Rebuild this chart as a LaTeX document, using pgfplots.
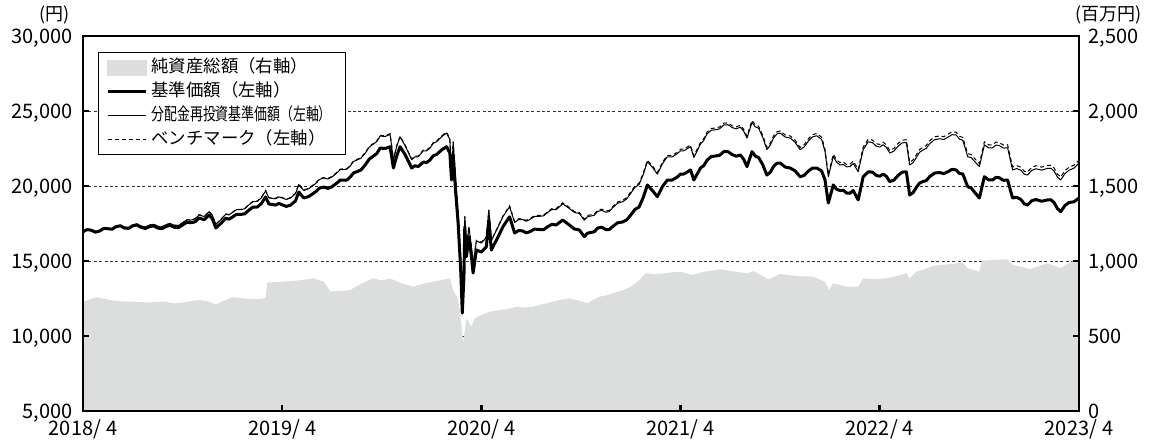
\documentclass[border=0pt]{standalone}
\usepackage{fontspec}
\setmainfont{Noto Sans CJK JP}
\usepackage{graphicx}
\usepackage{pgfplots}
\usepackage{pgfplotstable}
\pgfplotsset{compat=1.18}
\definecolor{areagray}{RGB}{220,221,221}

\pgfplotstableread{
m nav re bm
0 16950 16950 16950
0.25 17100 17105 17105
0.5 17050 17060 17060
0.75 16925 16940 16940
1 17000 17020 17020
1.25 17175 17200 17200
1.5 17150 17180 17180
1.75 17120 17155 17155
2 17290 17330 17330
2.25 17345 17390 17390
2.5 17200 17250 17250
2.75 17175 17230 17230
3 17350 17410 17410
3.25 17400 17470 17470
3.5 17250 17330 17330
3.75 17170 17260 17260
4 17290 17390 17390
4.25 17345 17450 17455
4.5 17200 17310 17320
4.75 17150 17265 17275
5 17300 17420 17430
5.25 17375 17500 17510
5.5 17250 17380 17390
5.75 17225 17365 17375
6 17400 17550 17560
6.25 17575 17740 17750
6.5 17550 17730 17740
6.75 17610 17800 17815
7 17870 18070 18090
7.3 17750 17960 17980
7.6 18070 18290 18310
7.8 17800 18030 18050
8 17200 17440 17460
8.3 17500 17750 17770
8.6 17850 18120 18140
8.8 17790 18075 18095
9 17930 18230 18250
9.25 18115 18425 18445
9.5 18100 18420 18440
9.75 18150 18485 18510
10 18400 18750 18780
10.25 18600 18960 18990
10.5 18600 18970 19000
10.75 18835 19220 19250
11 19270 19670 19700
11.2 18800 19200 19230
11.6 18730 19150 19180
11.8 18840 19275 19305
12 18750 19200 19230
12.25 18640 19100 19130
12.5 18730 19200 19230
12.8 19000 19480 19510
13 19600 20100 20130
13.3 19200 19700 19730
13.6 19300 19820 19850
14 19600 20150 20180
14.25 19865 20440 20475
14.5 19930 20530 20570
14.75 19840 20465 20505
15 19950 20600 20640
15.3 20200 20880 20920
15.5 20400 21090 21130
15.7 20400 21100 21140
15.9 20400 21120 21160
16.1 20600 21340 21380
16.3 20875 21635 21675
16.5 20950 21730 21770
16.75 21075 21860 21900
17 21400 22190 22230
17.25 21800 22595 22640
17.5 22000 22800 22850
17.7 22165 22965 23015
17.9 22530 23330 23380
18.2 22500 23300 23350
18.5 22620 23440 23490
18.7 21200 21730 21780
18.9 22000 22650 22700
19.1 22620 23270 23320
19.4 22100 22700 22750
19.8 21200 21750 21800
20.0 21350 21950 22000
20.2 21300 21950 22000
20.5 21600 22350 22400
20.7 21565 22340 22390
20.9 21730 22530 22580
21.1 22015 22840 22890
21.3 22100 22950 23000
21.6 22400 23280 23340
21.9 22620 23530 23590
22.1 22200 23100 23160
22.2 20400 20620 20680
22.3 22070 22920 22980
22.45 19600 20350 20450
22.6 17500 18150 18300
22.75 14500 15050 15100
22.85 11530 12000 12050
22.95 14000 14550 14600
23.0 17290 17940 17990
23.1 15290 15890 15940
23.25 16620 17240 17290
23.4 15300 15900 15950
23.5 14200 14750 14800
23.7 15730 16330 16380
24 15600 16200 16250
24.3 15950 16570 16620
24.45 17730 18380 18430
24.6 15730 16350 16400
25 16600 17250 17300
25.3 17290 17960 18010
25.7 17950 18620 18680
26 16870 17570 17630
26.25 17035 17760 17820
26.5 17000 17750 17810
26.7 16875 17650 17710
26.9 16950 17750 17810
27.2 17125 17965 18025
27.5 17100 17980 18040
27.75 17095 18010 18070
28 17290 18240 18300
28.25 17445 18430 18495
28.5 17400 18420 18490
28.9 17730 18810 18880
29.3 17400 18500 18570
29.6 17135 18235 18305
29.9 17070 18170 18240
30.2 16620 17720 17800
30.4 16860 17960 18040
30.6 16900 18000 18080
30.8 16950 18050 18130
31 17200 18300 18380
31.25 17250 18375 18455
31.5 17100 18250 18330
31.7 17095 18295 18375
31.9 17290 18540 18620
32.2 17545 18845 18930
32.5 17600 18950 19040
32.75 17735 19135 19225
33 18070 19520 19610
33.25 18435 19910 20000
33.5 18600 20100 20190
33.75 19235 20760 20855
34 20070 21620 21720
34.3 19700 21250 21350
34.6 19290 20790 20890
34.9 19945 21470 21570
35.2 20400 21950 22050
35.5 20400 21950 22050
35.8 20600 22150 22250
36.0 20800 22350 22455
36.2 20800 22350 22460
36.6 21070 22620 22730
36.8 20400 21900 22010
37.2 21200 22800 22910
37.4 21365 23040 23155
37.6 21730 23480 23600
37.85 21965 23715 23835
38.1 22000 23750 23870
38.35 22045 23810 23930
38.6 22290 24070 24190
38.85 22295 24085 24205
39.1 22100 23900 24020
39.35 21985 23810 23935
39.6 22070 23920 24050
39.8 21780 23655 23785
40 21290 23190 23320
40.3 22290 24240 24370
40.5 21995 23945 24075
40.7 21900 23850 23980
40.95 21415 23240 23375
41.2 20730 22430 22570
41.4 20915 22715 22855
41.6 21300 23200 23340
41.8 21515 23465 23605
42 21530 23530 23670
42.3 21265 23265 23405
42.6 21200 23200 23340
42.9 21010 22910 23055
43.2 20620 22420 22570
43.45 20710 22610 22760
43.7 21000 23000 23150
43.95 21200 23275 23425
44.2 21200 23350 23500
44.5 21000 23100 23250
44.7 20400 22300 22450
44.9 18870 20620 20770
45.2 20070 21970 22120
45.4 19785 21585 21740
45.6 19700 21400 21560
45.8 19715 21440 21600
46 19530 21280 21440
46.2 19515 21290 21450
46.4 19700 21500 21660
46.7 19070 20950 21110
47 20620 22420 22590
47.3 20950 22950 23120
47.55 20925 22900 23070
47.8 20700 22650 22820
48.0 20650 22600 22770
48.2 20800 22750 22920
48.4 20645 22575 22745
48.6 20290 22200 22370
48.85 20395 22325 22500
49.1 20700 22650 22830
49.35 20925 22875 23055
49.6 20950 22900 23080
49.8 19400 21400 21580
50.0 19550 21550 21730
50.2 19900 21900 22080
50.4 20200 22250 22430
50.6 20300 22400 22580
50.8 20360 22510 22695
51 20620 22820 23010
51.3 20860 23085 23275
51.6 20900 23150 23340
51.85 20825 23100 23290
52.1 20950 23250 23440
52.35 21110 23425 23615
52.6 21070 23400 23590
52.8 20835 23125 23315
53 20800 23050 23240
53.3 19950 21950 22150
53.5 19875 21900 22100
53.7 19600 21650 21850
54 19200 21290 21490
54.3 20620 22740 22940
54.55 20410 22545 22745
54.8 20400 22550 22750
55.0 20575 22725 22925
55.2 20550 22700 22900
55.45 20375 22525 22725
55.7 20400 22550 22750
56 19200 21070 21270
56.25 19250 21160 21360
56.5 19100 21050 21250
56.7 18815 20790 20990
56.9 18730 20730 20930
57.15 19015 21040 21240
57.4 19100 21150 21350
57.75 18985 21060 21260
58.1 19070 21170 21370
58.3 19085 21185 21385
58.5 18900 21000 21200
58.7 18495 20600 20800
58.9 18290 20400 20600
59.15 18695 20825 21025
59.4 18900 21050 21250
59.7 18950 21190 21390
60 19200 21530 21730
}\lines

\pgfplotstableread{
m aum
0 727
0.8 758
1.4 745
2 733
3 728
4 724
4.8 730
5.6 718
6.3 728
7 740
7.5 732
8 711
8.5 735
9 758
9.8 750
10.5 745
11.0 753
11.1 856
12 862
12.8 869
13.4 876
13.9 884
14.5 862
14.9 796
15.5 800
16.1 807
16.8 850
17.5 884
18 870
18.5 884
19.2 850
19.9 829
20.5 848
21.1 862
21.6 872
22.1 884
22.3 807
22.6 740
22.77 607
22.9 451
23.1 618
23.4 562
23.6 618
24.0 640
24.5 662
25.1 673
25.6 680
26.1 695
26.6 690
27.1 695
27.7 712
28.3 729
28.8 742
29.3 751
30.1 729
30.4 718
30.8 745
31.1 762
31.5 770
31.9 784
32.5 805
33 829
33.5 870
33.9 918
34.5 912
35 918
35.5 925
36 929
36.7 907
37.5 930
38.4 945
39.2 930
40 918
40.4 933
41.3 878
42 913
43 900
44 895
44.7 862
44.94 807
45.2 851
46 829
46.7 829
47 884
47.7 880
48.4 884
49 900
49.6 918
49.8 884
50.2 929
50.7 945
51.2 967
52.1 978
53 989
53.3 951
54 929
54.16 1002
55 1008
55.7 1011
56 973
56.5 962
57.05 945
57.6 968
58.1 984
58.9 951
59.3 980
59.6 996
60 1002
}\aum

\begin{document}
\begin{tikzpicture}
\useasboundingbox (-41.5pt,-15pt) rectangle (535pt,205.5pt);
\begin{axis}[
  scale only axis, width=498pt, height=187.5pt,
  at={(0,0)}, anchor=south west,
  xmin=0, xmax=60, ymin=0, ymax=2500,
  axis x line=none, axis y line*=right,
  y axis line style={draw=none},
  ytick={0,500,...,2500}, major tick length=0pt,
  ymajorgrids, grid style={black!80, line width=0.5pt, dash pattern=on 1.5pt off 1.2pt},
  scaled y ticks=false,
  /pgf/number format/1000 sep={,}, /pgf/number format/assume math mode=true,
  yticklabel style={anchor=west, inner sep=0pt, xshift=4.5pt, text height=7.3pt, text depth=0pt, font=\fontsize{10}{12}\selectfont},
]
\addplot[fill=areagray, draw=none] table[x=m,y=aum]{\aum} \closedcycle;
\end{axis}
\begin{axis}[
  scale only axis, width=498pt, height=187.5pt,
  at={(0,0)}, anchor=south west,
  xmin=0, xmax=60, ymin=5000, ymax=30000,
  axis line style={line width=1.3pt},
  xtick={0,12,24,36,48,60},
  xticklabels={{2018/\hspace{0.25em}4},{2019/\hspace{0.25em}4},{2020/\hspace{0.25em}4},{2021/\hspace{0.25em}4},{2022/\hspace{0.25em}4},{2023/\hspace{0.25em}4}},
  xtick pos=bottom, ytick={5000,10000,...,30000}, ytick pos=both, yticklabel pos=left,
  tick align=inside, major tick length=3pt, every tick/.style={black, line width=1.3pt},
  scaled y ticks=false,
  /pgf/number format/1000 sep={,}, /pgf/number format/assume math mode=true,
  tick label style={font=\fontsize{10}{12}\selectfont, text height=7.3pt, text depth=0pt},
  yticklabel style={anchor=east, inner sep=0pt, xshift=-5pt},
  xticklabel style={anchor=base, inner sep=0pt, yshift=-12.3pt},
  legend style={at={(0,1)}, anchor=north west, xshift=7.5pt, yshift=-8pt,
    draw=black, line width=0.6pt, inner xsep=4pt, inner ysep=3.5pt,
    font=\fontsize{8.7}{10}\selectfont, row sep=4pt,
    nodes={inner sep=0pt, text height=6.5pt, text depth=1.5pt},
    /tikz/every odd column/.append style={column sep=2pt}},
  legend cell align=left,
  legend image code/.code={\draw[#1] (0pt,0pt) -- (19pt,0pt);},
]
\addlegendimage{legend image code/.code={\fill[areagray] (0pt,-3.7pt) rectangle (19pt,3.7pt);}}
\addlegendentry{\makebox[93pt][l]{純資産総額（右軸）}}
\addplot[black, line width=1.5pt, line join=round] table[x=m,y=nav]{\lines};
\addlegendentry{\makebox[93pt][l]{基準価額（左軸）}}
\addplot[black, line width=0.5pt, line join=round] table[x=m,y=re]{\lines};
\addlegendentry{\makebox[93pt][l]{\scalebox{0.74}[1]{分配金再投資基準価額（左軸）}}}
\addplot[black, line width=0.5pt, dash pattern=on 2pt off 1.5pt] table[x=m,y=bm]{\lines};
\addlegendentry{\makebox[93pt][l]{ベンチマーク（左軸）}}
\end{axis}
\node[anchor=east, inner sep=0pt, font=\fontsize{9}{10}\selectfont] at (-6.5pt,198pt) {(円)};
\node[anchor=west, inner sep=0pt, font=\fontsize{9}{10}\selectfont] at (496pt,198pt) {(百万円)};
\end{tikzpicture}
\end{document}
